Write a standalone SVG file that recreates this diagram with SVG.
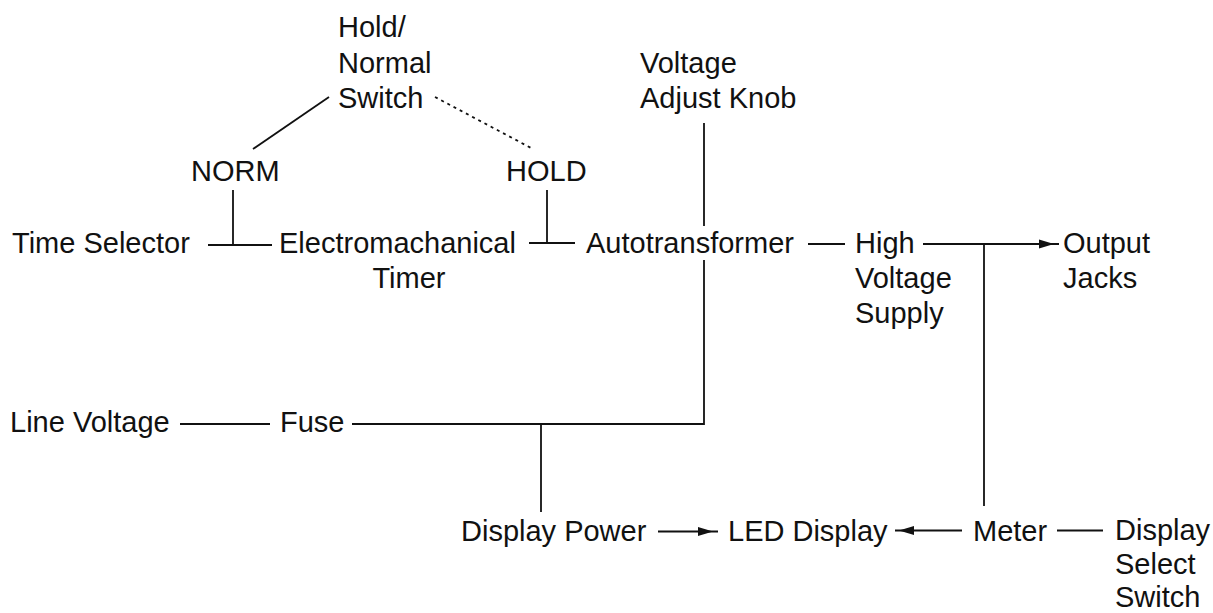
<svg xmlns="http://www.w3.org/2000/svg" width="1213" height="613" viewBox="0 0 1213 613">
<style>
text{font-family:"Liberation Sans",Arial,sans-serif;font-size:29px;fill:#111;}
.ln{stroke:#111;stroke-width:1.8;fill:none;}
.dot{stroke:#111;stroke-width:1.8;fill:none;stroke-dasharray:3 4;}
.ah{fill:#111;stroke:none;}
</style>
<rect width="1213" height="613" fill="#fff"/>
<g id="connectors">
<path class="ln" d="M329,97 L253,149"/>
<path class="dot" d="M435,97 L533,149"/>
<path class="ln" d="M208,245 H272"/>
<path class="ln" d="M233,190 V245"/>
<path class="ln" d="M529,243 H575"/>
<path class="ln" d="M547,190 V243"/>
<path class="ln" d="M704,123 V226"/>
<path class="ln" d="M808,244 H845"/>
<path class="ln" d="M923,244 H1059"/>
<polygon class="ah" points="1054,244 1039,239.5 1039,248.5"/>
<path class="ln" d="M984,244 V506"/>
<path class="ln" d="M180,424 H270"/>
<path class="ln" d="M352,424 H704 V260"/>
<path class="ln" d="M541,424 V512"/>
<path class="ln" d="M658,531.5 H718"/>
<polygon class="ah" points="713,531.5 698,527 698,536"/>
<path class="ln" d="M895,530.5 H962"/>
<polygon class="ah" points="899,530.5 914,526 914,535"/>
<path class="ln" d="M1057,530.5 H1103"/>
</g>
<g id="hold-normal-switch"><text x="338" y="37">Hold/</text><text x="338" y="73">Normal</text><text x="338" y="108">Switch</text></g>
<g id="norm"><text x="191" y="181">NORM</text></g>
<g id="hold"><text x="506" y="181">HOLD</text></g>
<g id="time-selector"><text x="12" y="253">Time Selector</text></g>
<g id="timer"><text x="279" y="253">Electromachanical</text><text x="409" y="288" text-anchor="middle">Timer</text></g>
<g id="voltage-adjust-knob"><text x="640" y="73">Voltage</text><text x="640" y="108">Adjust Knob</text></g>
<g id="autotransformer"><text x="586" y="253">Autotransformer</text></g>
<g id="high-voltage-supply"><text x="855" y="253">High</text><text x="855" y="288">Voltage</text><text x="855" y="323">Supply</text></g>
<g id="output-jacks"><text x="1063" y="253">Output</text><text x="1063" y="288">Jacks</text></g>
<g id="line-voltage"><text x="10" y="432">Line Voltage</text></g>
<g id="fuse"><text x="280" y="432">Fuse</text></g>
<g id="display-power"><text x="461" y="541">Display Power</text></g>
<g id="led-display"><text x="728" y="541">LED Display</text></g>
<g id="meter"><text x="973" y="541">Meter</text></g>
<g id="display-select-switch"><text x="1115" y="540">Display</text><text x="1115" y="574">Select</text><text x="1115" y="607">Switch</text></g>
</svg>
